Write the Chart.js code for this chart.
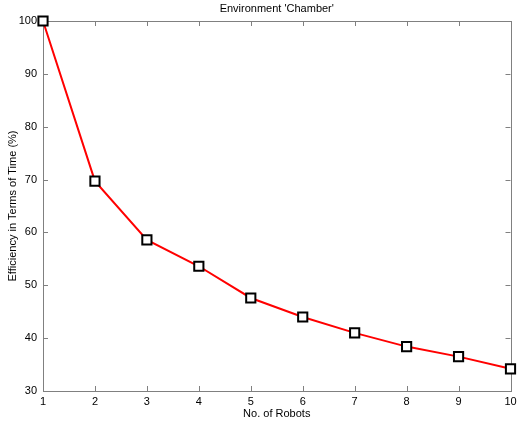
<!DOCTYPE html>
<html lang="en">
<head>
  <meta charset="UTF-8">
  <title>Environment 'Chamber'</title>
  <script src="https://cdn.jsdelivr.net/npm/chart.js"></script>
  <style>
    body {
      margin: 0;
      background-color: #ffffff;
    }
    .chart-container {
      width: 519px;
      height: 424px;
    }
  </style>
</head>
<body>
  <div class="chart-container">
    <canvas id="efficiencyChart" width="519" height="424"></canvas>
  </div>

  <script>
    const robots = [1, 2, 3, 4, 5, 6, 7, 8, 9, 10];
    const efficiency = [100, 69.7, 58.6, 53.6, 47.6, 44.0, 41.0, 38.4, 36.5, 34.2];
    const yTicks = [30, 40, 50, 60, 70, 80, 90, 100];
    const chartTitle = "Environment 'Chamber'";

    const axisColor = '#808080';
    const fontFamily = 'Arial, "Liberation Sans", sans-serif';

    // matlab style box with ticks pointing inwards, title centred on the axes
    const boxPlugin = {
      id: 'box',
      beforeDatasetsDraw(chart) {
        const { ctx, chartArea: a, scales } = chart;
        const len = 5;
        ctx.save();
        ctx.strokeStyle = axisColor;
        ctx.lineWidth = 1;
        ctx.beginPath();
        scales.x.ticks.forEach(t => {
          const px = Math.round(scales.x.getPixelForValue(t.value)) + 0.5;
          ctx.moveTo(px, a.bottom);
          ctx.lineTo(px, a.bottom - len);
          ctx.moveTo(px, a.top);
          ctx.lineTo(px, a.top + len);
        });
        scales.y.ticks.forEach(t => {
          const py = Math.round(scales.y.getPixelForValue(t.value)) + 0.5;
          ctx.moveTo(a.left, py);
          ctx.lineTo(a.left + len, py);
          ctx.moveTo(a.right, py);
          ctx.lineTo(a.right - len, py);
        });
        ctx.stroke();
        ctx.strokeRect(Math.round(a.left) + 0.5, Math.round(a.top) + 0.5,
          Math.round(a.right - a.left), Math.round(a.bottom - a.top));

        ctx.fillStyle = '#000000';
        ctx.font = '11px ' + fontFamily;
        ctx.textAlign = 'center';
        ctx.textBaseline = 'middle';
        ctx.fillText(chartTitle, (a.left + a.right) / 2, 9);
        ctx.restore();
      }
    };

    new Chart(document.getElementById('efficiencyChart'), {
      type: 'line',
      data: {
        datasets: [{
          data: robots.map((r, i) => ({ x: r, y: efficiency[i] })),
          borderColor: '#ff0000',
          borderWidth: 2,
          pointStyle: 'rect',
          pointRadius: 6.5,
          pointBorderWidth: 2,
          pointBorderColor: '#000000',
          pointBackgroundColor: '#ffffff',
          tension: 0,
          clip: false
        }]
      },
      options: {
        responsive: false,
        animation: false,
        layout: { padding: { left: 0, right: 0, top: 21, bottom: 0 } },
        plugins: {
          legend: { display: false },
          tooltip: { enabled: false },
          title: { display: false }
        },
        scales: {
          x: {
            type: 'linear',
            min: 1,
            max: 10,
            grid: { display: false, drawTicks: false },
            border: { display: false },
            ticks: {
              stepSize: 1,
              padding: 4,
              color: '#000000',
              font: { family: fontFamily, size: 11 }
            },
            title: {
              display: true,
              text: 'No. of Robots',
              color: '#000000',
              font: { family: fontFamily, size: 11 },
              padding: { top: 0, bottom: 3 }
            },
            afterFit(s) {
              s.height = 33;
              s.paddingLeft = 0;
              s.paddingRight = 4;
            }
          },
          y: {
            min: 30,
            max: 100,
            grid: { display: false, drawTicks: false },
            border: { display: false },
            afterBuildTicks(s) { s.ticks = yTicks.map(v => ({ value: v })); },
            ticks: {
              padding: 6,
              color: '#000000',
              font: { family: fontFamily, size: 11 }
            },
            title: {
              display: true,
              text: 'Efficiency in Terms of Time (%)',
              color: '#000000',
              font: { family: fontFamily, size: 11 },
              padding: { top: 6, bottom: 0 }
            },
            afterFit(s) { s.width = 43; }
          }
        }
      },
      plugins: [boxPlugin]
    });
  </script>
</body>
</html>
